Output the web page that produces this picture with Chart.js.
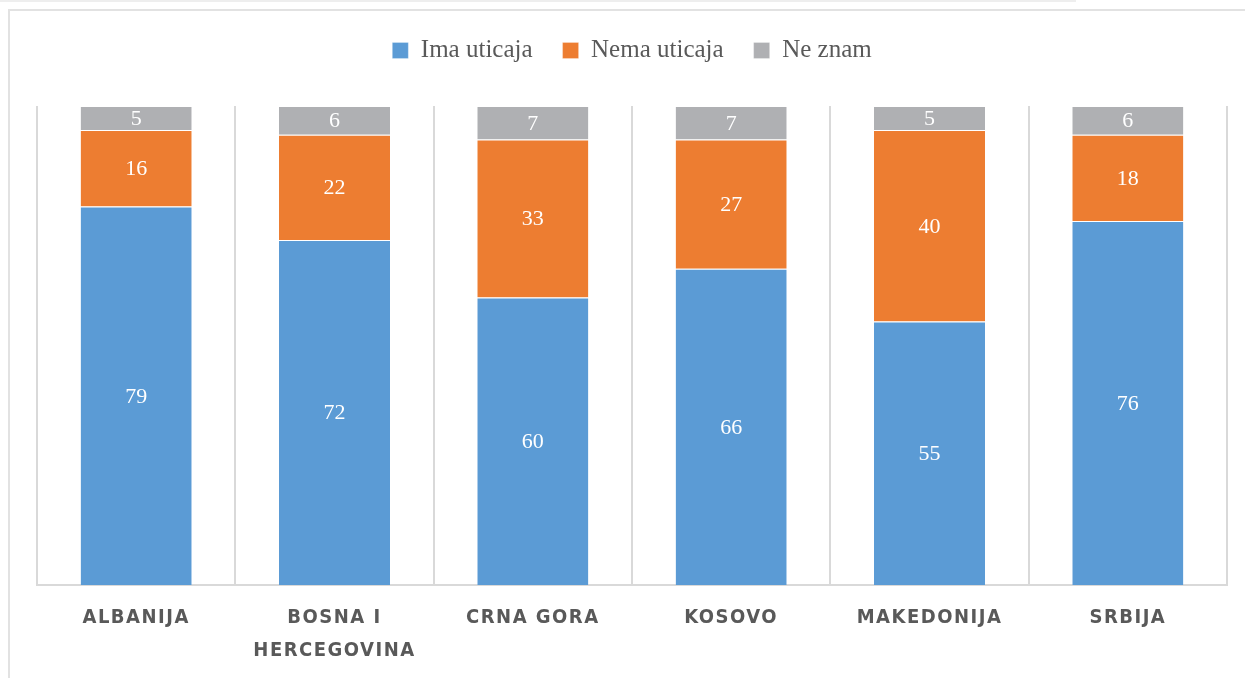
<!DOCTYPE html>
<html lang="sr">

<head>
    <meta charset="UTF-8">
    <title>Uticaj po zemljama</title>
    <style>
        html, body {
            margin: 0;
            padding: 0;
            background-color: #fff;
        }

        body {
            width: 1245px;
            height: 678px;
            overflow: hidden;
            position: relative;
        }

        .top-line {
            position: absolute;
            left: 0;
            top: 0;
            width: 1076px;
            border-top: 2px solid #eeeeee;
        }

        .frame {
            position: absolute;
            left: 8px;
            top: 9px;
            right: -10px;
            bottom: -10px;
            border: 2px solid #e2e2e2;
        }

        #uticajChart {
            position: absolute;
            left: 0;
            top: 0;
        }
    </style>
</head>

<body>
    <div class="top-line"></div>
    <div class="frame"></div>
    <canvas id="uticajChart" width="1245" height="678"></canvas>

    <script src="https://cdn.jsdelivr.net/npm/chart.js"></script>
    <script>
        const zemlje = ['ALBANIJA', ['BOSNA I', 'HERCEGOVINA'], 'CRNA GORA', 'KOSOVO', 'MAKEDONIJA', 'SRBIJA'];
        const imaUticaja = [79, 72, 60, 66, 55, 76];
        const nemaUticaja = [16, 22, 33, 27, 40, 18];
        const neZnam = [5, 6, 7, 7, 5, 6];

        // brojevi u sredini svakog segmenta
        const segmentLabels = {
            id: 'segmentLabels',
            afterDatasetsDraw(chart) {
                const ctx = chart.ctx;
                ctx.save();
                ctx.font = '22px "Liberation Serif", serif';
                ctx.fillStyle = '#ffffff';
                ctx.textAlign = 'center';
                ctx.textBaseline = 'middle';
                chart.data.datasets.forEach((ds, i) => {
                    chart.getDatasetMeta(i).data.forEach((bar, j) => {
                        const { x, y, base } = bar.getProps(['x', 'y', 'base'], true);
                        ctx.fillText(ds.data[j], x, (y + base) / 2 + 1);
                    });
                });
                ctx.restore();
            }
        };

        // razmak između slova na x osi
        const spacedTicks = {
            id: 'spacedTicks',
            afterLayout(chart) {
                const scale = chart.scales.x;
                if (scale._spaced) return;
                const draw = scale.drawLabels.bind(scale);
                scale.drawLabels = (area) => {
                    chart.ctx.letterSpacing = '1.5px';
                    draw(area);
                    chart.ctx.letterSpacing = '0px';
                };
                scale._spaced = true;
            }
        };

        // prostor ispod legende
        const legendGap = {
            id: 'legendGap',
            beforeInit(chart) {
                const fit = chart.legend.fit;
                chart.legend.fit = function () {
                    fit.call(this);
                    this.height += 33;
                };
            }
        };

        const segment = (label, data, color) => ({
            label: label,
            data: data,
            backgroundColor: color,
            borderColor: '#ffffff',
            borderWidth: { top: 1, bottom: 0, left: 0, right: 0 },
            borderSkipped: false,
            barPercentage: 0.56,
            categoryPercentage: 1
        });

        new Chart(document.getElementById('uticajChart'), {
            type: 'bar',
            data: {
                labels: zemlje,
                datasets: [
                    segment('Ima uticaja', imaUticaja, '#5B9BD5'),
                    segment('Nema uticaja', nemaUticaja, '#ED7D31'),
                    segment('Ne znam', neZnam, '#AFB0B3')
                ]
            },
            options: {
                responsive: false,
                animation: false,
                layout: { padding: { left: 37, right: 18, top: 8, bottom: 0 } },
                plugins: {
                    legend: {
                        position: 'top',
                        labels: {
                            boxWidth: 16,
                            boxHeight: 16,
                            padding: 30,
                            color: '#595959',
                            font: { family: '"Liberation Serif", serif', size: 25 }
                        }
                    },
                    tooltip: { enabled: false }
                },
                scales: {
                    x: {
                        stacked: true,
                        grid: { color: '#d9d9d9', lineWidth: 2, drawTicks: false, offset: true },
                        border: { color: '#d9d9d9', width: 2 },
                        ticks: {
                            color: '#595959',
                            padding: 16,
                            maxRotation: 0,
                            autoSkip: false,
                            font: { family: '"Liberation Sans Narrow", "DejaVu Sans Condensed", sans-serif', size: 20, weight: 'bold', lineHeight: 1.65 }
                        },
                        afterFit(scale) { scale.height = 93; }
                    },
                    y: {
                        stacked: true,
                        display: false,
                        min: 0,
                        max: 100
                    }
                }
            },
            plugins: [segmentLabels, spacedTicks, legendGap]
        });
    </script>
</body>

</html>
